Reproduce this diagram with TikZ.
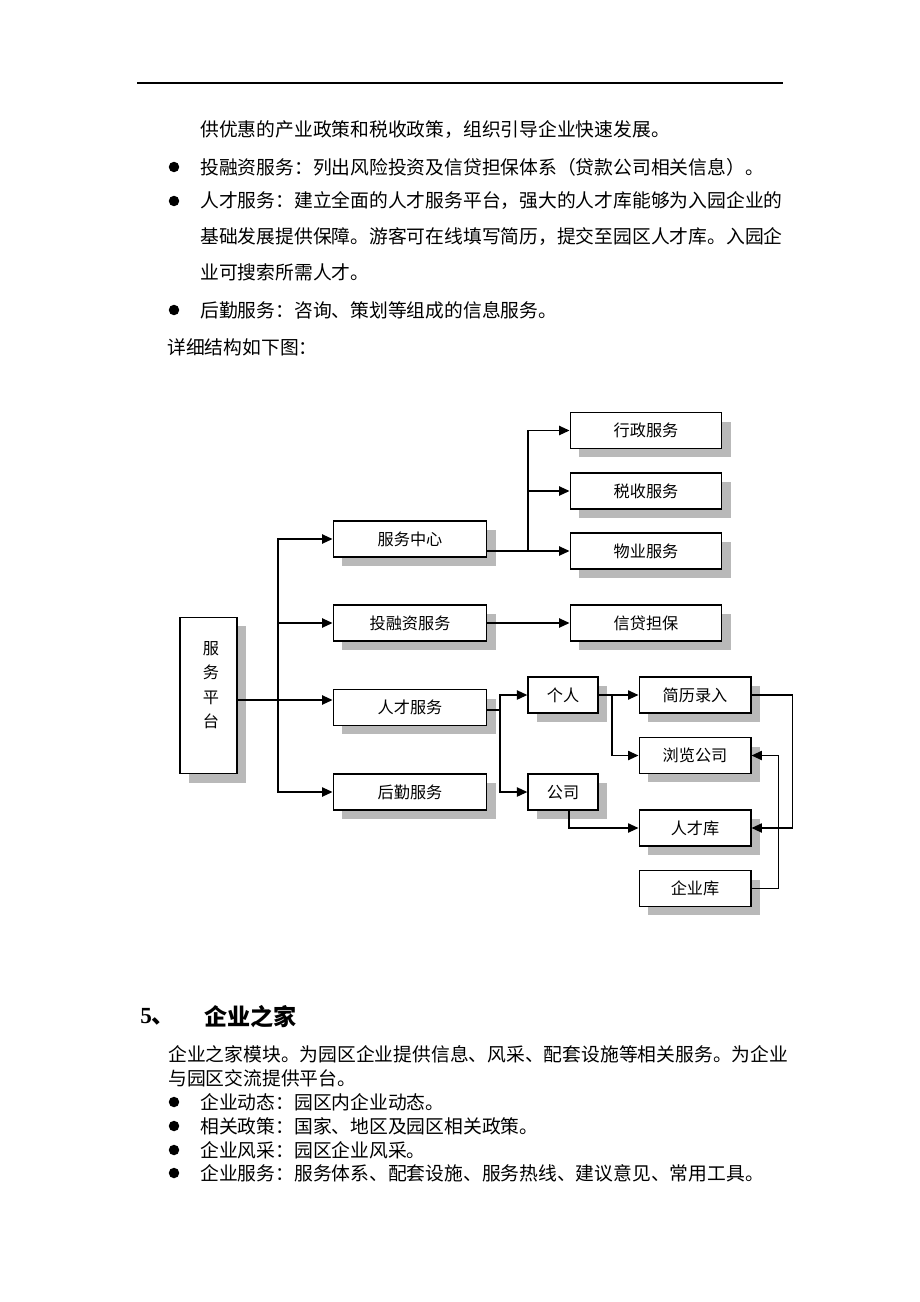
\documentclass[tikz,border=0pt]{standalone}
\usepackage{fontspec}
\setmainfont{Liberation Serif}
\newfontfamily\cjk{Noto Sans CJK SC}
\usetikzlibrary{arrows.meta,positioning,shadows}
\tikzset{every node/.style={inner sep=0pt}, % Text sits exactly at its coordinate
        body/.style={ % Running text of the page
            anchor=west,
            font=\cjk\fontsize{12.2pt}{14pt}\selectfont},
        dot/.style={ % Bullet in front of a list item
            circle, fill=black,
            minimum size=6.8pt},
        box/.style={ % Boxes of the structure chart
            draw, line width=1pt,
            fill=white,
            minimum height=23.3pt,
            font=\cjk\fontsize{10.5pt}{12pt}\selectfont,
            drop shadow={shadow xshift=5.8pt, shadow yshift=-5.8pt,
                fill=gray!55, opacity=1}},
        link/.style={ % Connectors between the boxes
            draw, line width=1pt},
        arrow/.style={ % Connectors that end with a filled head
            link,
            -{Triangle[length=6.8pt,width=6pt]}}
        }

\begin{document}
\begin{tikzpicture}[x=0.022826cm, y=-0.022826cm]
    \path[fill=white, use as bounding box] (0,0) rectangle (920,1302);

    % page header rule
    \coordinate (ruleL) at (137,83);
    \coordinate (ruleR) at (783,83);
    \draw[line width=1pt] (ruleL) -- (ruleR);

    % text above the chart
    \node[body] (t1) at (200,130) {供优惠的产业政策和税收政策，组织引导企业快速发展。};
    \node[dot] (b2) at (174,167) {};
    \node[body] (t2) at (200,167) {投融资服务：列出风险投资及信贷担保体系（贷款公司相关信息）。};
    \node[dot] (b3) at (174,201) {};
    \node[body] (t3) at (200,201) {人才服务：建立全面的人才服务平台，强大的人才库能够为入园企业的};
    \node[body] (t4) at (200,237) {基础发展提供保障。游客可在线填写简历，提交至园区人才库。入园企};
    \node[body] (t5) at (200,272) {业可搜索所需人才。};
    \node[dot] (b6) at (174,310) {};
    \node[body] (t6) at (200,310) {后勤服务：咨询、策划等组成的信息服务。};
    \node[body] (t7) at (167,347) {详细结构如下图：};

    % structure chart
    \node[box, minimum width=36.9pt, minimum height=101.5pt] (platform) at (208.5,695.5) {};
    \node[align=center, font=\cjk\fontsize{10.5pt}{15.8pt}\selectfont]
          (platformtext) at (211,685) {服\\务\\平\\台};

    \node[box, minimum width=99.6pt] (center) at (410,539) {服务中心};
    \node[box, minimum width=99.6pt] (invest) at (410,623) {投融资服务};
    \node[box, minimum width=99.6pt] (talent) at (410,707.5) {人才服务};
    \node[box, minimum width=99.6pt] (logistics) at (410,792) {后勤服务};

    \node[box, minimum width=98.3pt] (admin) at (646,430.5) {行政服务};
    \node[box, minimum width=98.3pt] (tax) at (646,491) {税收服务};
    \node[box, minimum width=98.3pt] (property) at (646,551) {物业服务};
    \node[box, minimum width=98.3pt] (credit) at (646,623) {信贷担保};

    \node[box, minimum width=45.3pt] (person) at (563,695) {个人};
    \node[box, minimum width=45.3pt] (company) at (563,792) {公司};

    \node[box, minimum width=72.4pt] (resume) at (695,695) {简历录入};
    \node[box, minimum width=72.4pt] (browse) at (695,755.5) {浏览公司};
    \node[box, minimum width=72.4pt] (pool) at (695,828) {人才库};
    \node[box, minimum width=72.4pt] (firms) at (695,888.5) {企业库};

    % branch points
    \coordinate (fork1) at (278,700);
    \coordinate (fork2) at (528,551);
    \coordinate (fork3) at (500,710);
    \coordinate (fork4) at (612,695);

    \draw[arrow] (fork1 -| platform.east) -- (fork1 -| talent.west);
    \draw[arrow] (fork1) |- (center.west);
    \draw[arrow] (fork1) |- (invest.west);
    \draw[arrow] (fork1) |- (logistics.west);

    \draw[arrow] (center.east |- property) -- (property.west);
    \draw[arrow] (fork2) |- (tax.west);
    \draw[arrow] (fork2) |- (admin.west);
    \draw[arrow] (invest) -- (credit);

    \draw[link] (fork3 -| talent.east) -- (fork3);
    \draw[arrow] (fork3) |- (person.west);
    \draw[arrow] (fork3) |- (company.west);

    \draw[arrow] (person) -- (resume);
    \draw[arrow] (fork4) |- (browse.west);
    \draw[arrow] ([xshift=4pt]company.south) |- (pool.west);
    \draw[arrow] (resume.east) -- ++(41,0) |- (pool.east);
    \draw[arrow] (firms.east) -- ++(27,0) |- (browse.east);

    % section 5
    \node[anchor=west, font=\fontsize{15pt}{18pt}\selectfont] (secnum) at (140,1017) {\bfseries 5\cjk 、};
    \node[anchor=west, font=\cjk\bfseries\fontsize{15pt}{18pt}\selectfont] (sectitle) at (204,1017) {企业之家};
    \node[body] (p1) at (168,1054) {企业之家模块。为园区企业提供信息、风采、配套设施等相关服务。为企业};
    \node[body] (p2) at (168,1078) {与园区交流提供平台。};
    \node[dot] (b8) at (174,1102) {};
    \node[body] (p3) at (200,1102) {企业动态：园区内企业动态。};
    \node[dot] (b9) at (174,1126) {};
    \node[body] (p4) at (200,1126) {相关政策：国家、地区及园区相关政策。};
    \node[dot] (b10) at (174,1150) {};
    \node[body] (p5) at (200,1150) {企业风采：园区企业风采。};
    \node[dot] (b11) at (174,1173) {};
    \node[body] (p6) at (200,1173) {企业服务：服务体系、配套设施、服务热线、建议意见、常用工具。};
\end{tikzpicture}
\end{document}
